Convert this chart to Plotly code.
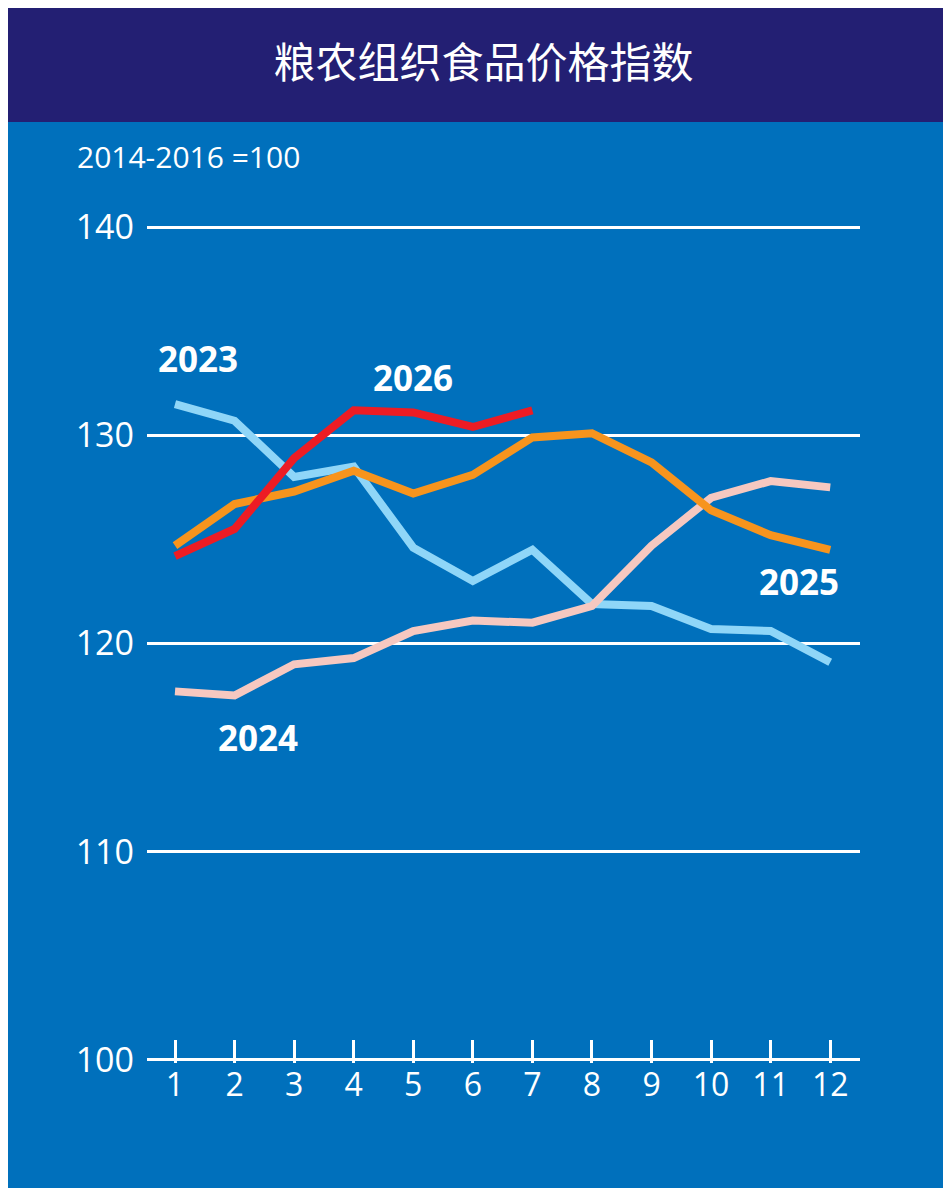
import plotly.graph_objects as go

months = list(range(1, 13))
y2023 = [131.5, 130.7, 128.0, 128.5, 124.6, 123.0, 124.5, 121.9, 121.8, 120.7, 120.6, 119.1]
y2024 = [117.7, 117.5, 119.0, 119.3, 120.6, 121.1, 121.0, 121.8, 124.7, 127.0, 127.8, 127.5]
y2025 = [124.7, 126.7, 127.3, 128.3, 127.2, 128.1, 129.9, 130.1, 128.7, 126.4, 125.2, 124.5]
y2026 = [124.2, 125.5, 128.9, 131.2, 131.1, 130.4, 131.2]

W, H = 951, 1188
OFF = 8  # page offset
L, R, T, B = 147 - OFF, 860 - OFF, 227 - OFF - 3, 1060 - OFF + 3
pw, ph = R - L, B - T

def px(xp):
    return (xp - OFF - L) / pw

def py(yp):
    return (B - (yp - OFF)) / ph

fig = go.Figure()
for y, c in [(y2023, "#8FD6F8"), (y2024, "#F6C8C0"), (y2025, "#F7941D"), (y2026, "#ED1C24")]:
    fig.add_trace(go.Scatter(x=months[:len(y)], y=y, mode="lines",
                             line=dict(color=c, width=8), showlegend=False))

font = "Open Sans, DejaVu Sans"
labels = [("2023", 1.39, 133.7), ("2026", 5.0, 132.8), ("2025", 11.47, 123.0), ("2024", 2.39, 115.5)]
for t, x, y in labels:
    fig.add_annotation(x=x, y=y, text="<b>%s</b>" % t, showarrow=False,
                       font=dict(color="white", size=35, family=font))

fig.add_annotation(xref="paper", yref="paper", x=px(75), y=py(157 - 23), xanchor="left",
                   text="2014-2016 =100", showarrow=False,
                   font=dict(color="white", size=30, family=font))

fig.add_shape(type="rect", xref="paper", yref="paper", x0=px(0), x1=px(W + 20),
              y0=py(122), y1=py(-20), fillcolor="#231F73", line=dict(width=0), layer="below")

fig.update_layout(
    width=W, height=H, margin=dict(l=L, r=W - R, t=T, b=H - B),
    paper_bgcolor="#0070BC", plot_bgcolor="#0070BC",
    title=dict(text="粮农组织食品价格指数", x=0.5, xanchor="center", xref="container",
               y=1 - 55 / H, yanchor="middle", yref="container",
               font=dict(color="white", size=42, family="Noto Sans CJK SC")),
    xaxis=dict(range=[0.53, 12.5], tickvals=months, ticks="inside", ticklen=23,
               tickwidth=3, tickcolor="white", showgrid=False, zeroline=False,
               showline=False, tickfont=dict(color="white", size=32, family=font)),
    yaxis=dict(range=[99.85, 140.15], tickvals=[100, 110, 120, 130, 140], showgrid=True,
               gridcolor="white", gridwidth=3, zeroline=False, showline=False,
               ticks="", ticklabelstandoff=12,
               tickfont=dict(color="white", size=34, family=font)),
)
fig.write_html("out.html")
